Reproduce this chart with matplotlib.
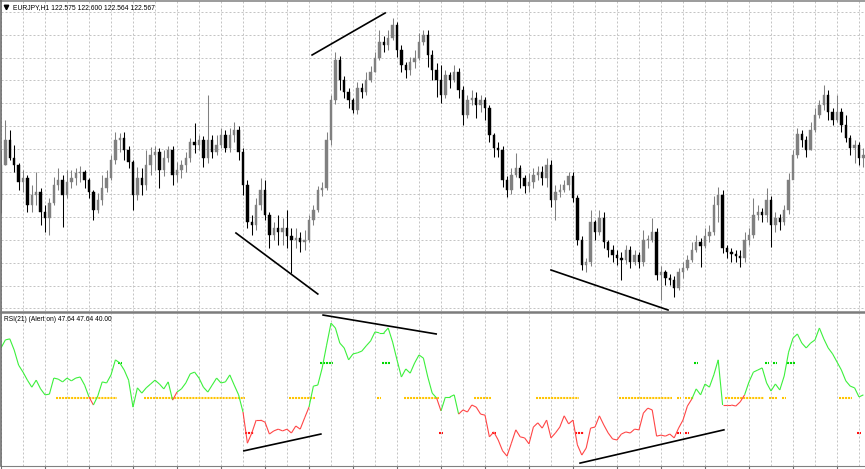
import numpy as np
import matplotlib
matplotlib.use("Agg")
import matplotlib.pyplot as plt
from matplotlib.lines import Line2D
from matplotlib.collections import LineCollection
from matplotlib.ticker import MultipleLocator, FixedLocator

W, H = 865, 469

symbol_label = "EURJPY,H1 122.575 122.600 122.564 122.567"
rsi_label = "RSI(21) (Alert on) 47.64 47.64 40.00"

# hourly bars, open of each bar = previous close
first_open = 122.12
close = [
    122.47, 122.72, 122.54, 122.47, 122.30, 122.34, 122.07, 122.17, 122.20, 122.00,
    121.94, 122.09, 122.27, 122.32, 122.17, 122.30, 122.34, 122.39, 122.40, 122.32,
    122.20, 122.02, 122.12, 122.24, 122.34, 122.52, 122.72, 122.74, 122.62, 122.50,
    122.17, 122.34, 122.27, 122.47, 122.57, 122.60, 122.42, 122.54, 122.62, 122.37,
    122.42, 122.47, 122.54, 122.70, 122.67, 122.72, 122.54, 122.72, 122.60, 122.67,
    122.77, 122.64, 122.77, 122.82, 122.60, 122.27, 121.90, 121.87, 122.07, 122.22,
    121.97, 121.77, 121.84, 121.80, 121.84, 121.76, 121.72, 121.74, 121.70, 121.72,
    121.92, 122.02, 122.22, 122.24, 122.72, 123.12, 123.52, 123.32, 123.20, 123.12,
    123.02, 123.24, 123.20, 123.32, 123.40, 123.54, 123.70, 123.67, 123.74, 123.87,
    123.62, 123.47, 123.42, 123.50, 123.54, 123.70, 123.77, 123.57, 123.42, 123.32,
    123.17, 123.37, 123.32, 123.40, 123.22, 122.97, 123.12, 123.14, 123.07, 123.12,
    123.04, 122.77, 122.64, 122.62, 122.32, 122.22, 122.37, 122.44, 122.34, 122.26,
    122.30, 122.37, 122.40, 122.34, 122.47, 122.12, 122.20, 122.22, 122.27, 122.36,
    122.14, 121.72, 121.47, 121.50, 121.90, 121.80, 121.94, 121.70, 121.62, 121.57,
    121.54, 121.52, 121.62, 121.50, 121.57, 121.50, 121.72, 121.72, 121.80, 121.37,
    121.40, 121.34, 121.32, 121.24, 121.40, 121.44, 121.52, 121.62, 121.70, 121.66,
    121.76, 121.80, 122.07, 122.17, 121.64, 121.60, 121.58, 121.56, 121.54, 121.72,
    121.77, 121.97, 122.00, 121.97, 122.12, 121.87, 121.94, 121.90, 122.02, 122.32,
    122.57, 122.78, 122.72, 122.62, 122.82, 122.97, 123.07, 123.17, 123.00, 122.92,
    123.00, 122.87, 122.74, 122.64, 122.67, 122.54, 122.57,
]
high = [
    122.62, 122.92, 122.82, 122.67, 122.49, 122.42, 122.37, 122.27, 122.40, 122.24,
    122.07, 122.14, 122.35, 122.44, 122.37, 122.42, 122.42, 122.44, 122.46, 122.42,
    122.34, 122.22, 122.19, 122.37, 122.42, 122.57, 122.80, 122.79, 122.80, 122.66,
    122.52, 122.45, 122.44, 122.62, 122.65, 122.66, 122.64, 122.62, 122.66, 122.66,
    122.50, 122.52, 122.60, 122.74, 122.89, 122.77, 122.76, 123.17, 122.77, 122.77,
    122.84, 122.82, 122.84, 122.90, 122.86, 122.64, 122.32, 121.97, 122.14, 122.34,
    122.32, 122.00, 121.90, 121.97, 121.94, 122.02, 121.84, 121.84, 121.80, 121.82,
    121.97, 122.07, 122.26, 122.30, 122.80, 123.17, 123.60, 123.56, 123.36, 123.24,
    123.14, 123.30, 123.29, 123.40, 123.46, 123.60, 123.82, 123.76, 123.82, 123.94,
    123.90, 123.67, 123.50, 123.55, 123.62, 123.79, 123.82, 123.82, 123.62, 123.49,
    123.47, 123.42, 123.40, 123.47, 123.44, 123.26, 123.17, 123.22, 123.20, 123.17,
    123.15, 123.07, 122.79, 122.70, 122.66, 122.36, 122.44, 122.59, 122.47, 122.37,
    122.39, 122.44, 122.46, 122.46, 122.54, 122.52, 122.27, 122.28, 122.32, 122.40,
    122.40, 122.17, 121.76, 121.54, 122.02, 121.92, 122.02, 122.00, 121.72, 121.67,
    121.62, 121.60, 121.67, 121.66, 121.62, 121.60, 121.82, 121.77, 121.94, 121.84,
    121.46, 121.42, 121.38, 121.36, 121.44, 121.50, 121.57, 121.70, 121.77, 121.74,
    121.84, 121.87, 122.16, 122.25, 122.22, 121.67, 121.64, 121.62, 121.62, 121.80,
    121.84, 122.14, 122.07, 122.04, 122.24, 122.16, 122.00, 121.98, 122.07, 122.39,
    122.62, 122.84, 122.82, 122.76, 122.90, 123.04, 123.12, 123.27, 123.22, 123.04,
    123.17, 123.04, 122.97, 122.77, 122.72, 122.70, 122.64,
]
low = [
    121.99, 122.47, 122.52, 122.40, 122.22, 122.20, 122.00, 122.00, 122.07, 121.87,
    121.80, 121.77, 122.07, 122.22, 121.85, 122.14, 122.24, 122.27, 122.30, 122.24,
    122.14, 121.92, 121.99, 122.07, 122.20, 122.32, 122.48, 122.60, 122.52, 122.44,
    122.02, 122.12, 122.17, 122.22, 122.37, 122.42, 122.24, 122.36, 122.50, 122.27,
    122.30, 122.34, 122.40, 122.50, 122.59, 122.62, 122.45, 122.49, 122.54, 122.57,
    122.64, 122.60, 122.60, 122.70, 122.52, 122.17, 121.84, 121.77, 121.82, 122.02,
    121.92, 121.64, 121.72, 121.67, 121.67, 121.64, 121.39, 121.64, 121.60, 121.62,
    121.70, 121.87, 122.00, 122.16, 122.22, 122.67, 123.08, 123.22, 123.14, 123.04,
    122.99, 122.98, 123.14, 123.17, 123.30, 123.40, 123.52, 123.60, 123.62, 123.72,
    123.55, 123.40, 123.34, 123.37, 123.44, 123.52, 123.67, 123.45, 123.32, 123.15,
    123.09, 123.14, 123.24, 123.30, 123.14, 122.87, 122.94, 123.07, 122.94, 123.00,
    122.92, 122.70, 122.55, 122.55, 122.25, 122.15, 122.18, 122.35, 122.24, 122.19,
    122.20, 122.24, 122.32, 122.27, 122.25, 122.05, 121.92, 122.15, 122.20, 122.22,
    122.10, 121.67, 121.42, 121.40, 121.46, 121.72, 121.77, 121.64, 121.55, 121.50,
    121.47, 121.32, 121.48, 121.44, 121.47, 121.44, 121.46, 121.64, 121.70, 121.32,
    121.12, 121.27, 121.27, 121.15, 121.22, 121.34, 121.42, 121.50, 121.60, 121.45,
    121.64, 121.70, 121.77, 121.90, 121.59, 121.54, 121.50, 121.50, 121.45, 121.50,
    121.67, 121.74, 121.92, 121.90, 121.90, 121.65, 121.80, 121.82, 121.87, 121.98,
    122.34, 122.54, 122.65, 122.55, 122.62, 122.80, 122.94, 123.02, 122.92, 122.87,
    122.90, 122.80, 122.70, 122.57, 122.49, 122.47, 122.45,
]

rsi = [
    64.3, 66.6, 66.9, 63.7, 59.4, 57.4, 55.1, 53.1, 55.1, 52.6,
    50.9, 51.1, 55.7, 55.4, 54.6, 55.7, 54.9, 55.7, 56.0, 53.7,
    50.3, 48.0, 50.6, 54.6, 54.3, 56.6, 60.9, 60.0, 58.0, 55.1,
    47.4, 52.9, 51.4, 52.9, 54.0, 55.1, 54.0, 52.6, 54.6, 49.4,
    51.7, 52.6, 54.3, 56.9, 57.4, 55.7, 53.1, 51.7, 53.7, 55.7,
    54.3, 54.6, 56.6, 53.7, 50.9, 46.0, 37.1, 40.0, 43.7, 43.7,
    43.1, 39.7, 40.6, 41.1, 40.6, 41.1, 40.0, 42.0, 41.1, 44.3,
    47.4, 53.4, 53.7, 58.6, 65.1, 71.4, 70.0, 65.7, 64.3, 60.9,
    62.6, 62.9, 63.4, 64.9, 66.3, 68.9, 68.6, 68.6, 70.0, 66.0,
    60.9, 56.0, 58.3, 57.1, 60.0, 62.3, 61.4, 56.0, 51.4, 50.0,
    46.3, 50.3, 50.3, 50.9, 45.4, 46.6, 46.0, 48.0, 47.4, 45.4,
    45.1, 38.9, 40.3, 38.0, 34.9, 33.4, 37.1, 40.9, 38.9, 38.6,
    36.9, 41.7, 42.9, 41.4, 43.7, 38.6, 40.0, 41.7, 44.9, 42.6,
    43.7, 36.6, 33.7, 35.7, 41.4, 41.7, 44.9, 42.3, 40.0, 38.3,
    38.0, 39.7, 40.3, 40.0, 41.1, 40.9, 45.7, 47.1, 46.6, 39.1,
    39.4, 39.1, 39.7, 38.6, 41.4, 43.7, 47.7, 49.7, 52.6, 50.9,
    54.0, 53.1, 56.6, 60.9, 48.0, 48.0, 48.0, 47.7, 48.9, 50.9,
    54.6, 57.4, 58.0, 58.6, 54.3, 52.0, 54.0, 52.3, 56.3, 63.1,
    67.1, 68.3, 65.7, 64.3, 65.7, 66.6, 70.0, 66.9, 64.3, 62.6,
    60.3, 58.0, 54.9, 53.4, 52.9, 50.3, 50.9,
]

# bars where the indicator paints the line red (bar index ranges, inclusive)
bear_spans = [(20, 20), (39, 39), (55, 69), (99, 99), (104, 156), (164, 168)]

# alert dots
level_mid, level_up, level_dn = 50, 60, 40
mid_spans = [(13, 26), (33, 55), (66, 71), (86, 86), (92, 99), (108, 111), (122, 131),
             (141, 152), (154, 154), (156, 157), (165, 173), (175, 176), (178, 178), (191, 193)]
up_spans = [(27, 27), (73, 75), (87, 88), (158, 158), (174, 174), (176, 176), (179, 180)]
dn_spans = [(56, 57), (100, 100), (112, 112), (131, 132), (154, 154), (156, 156), (195, 195)]

# hand-drawn trend lines
price_trend_x = [[53.4, 72.0], [70.7, 87.3], [125.0, 151.6]]
price_trend_y = [[121.79, 121.18], [123.57, 123.99], [121.42, 121.02]]
rsi_trend_x = [[55.2, 72.7], [73.2, 98.9], [131.6, 164.3]]
rsi_trend_y = [[34.9, 39.7], [73.7, 68.3], [31.4, 40.9]]

GRID = "#c4c4c4"
BULL = "#808080"
BEAR = "#000000"
RSI_UP = "#3cf03c"
RSI_DN = "#ff4646"


def rect(x0, y0, x1, y1):
    return [x0 / W, 1 - y1 / H, (x1 - x0) / W, (y1 - y0) / H]


fig = plt.figure(figsize=(W / 100, H / 100), dpi=100)
ax = fig.add_axes(rect(1, 1, 865, 311))
ax2 = fig.add_axes(rect(1, 313, 865, 466))

n = len(close)
idx = np.arange(n)
c = np.array(close)
o = np.r_[first_open, c[:-1]]
hi = np.array(high)
lo = np.array(low)
up = c >= o

# candles
for mask, col in ((up, BULL), (~up, BEAR)):
    ax.vlines(idx[mask], lo[mask], hi[mask], color=col, lw=0.75, zorder=2)
    body = np.maximum(np.abs(c - o), 0.012)
    ax.bar(idx[mask], body[mask], bottom=np.minimum(c, o)[mask], width=0.55,
           color=col, edgecolor=col, lw=0.3, zorder=3)

for xs, ys in zip(price_trend_x, price_trend_y):
    ax.plot(xs, ys, color="black", lw=1.2, zorder=4)

ax.set_xlim(0, 864 / 4.4)
ax.set_ylim(121.01, 124.11)
ax.xaxis.set_major_locator(MultipleLocator(5))
ax.yaxis.set_major_locator(FixedLocator(np.arange(124.0, 121.0, -0.228)))
ax.grid(True, color=GRID, lw=0.72, linestyle=(0, (2, 2)))
ax.set_axisbelow(True)
ax.tick_params(which="both", length=0, labelleft=False, labelbottom=False)
for s in ax.spines.values():
    s.set_visible(False)

# RSI line, red where the indicator is bearish
r = np.array(rsi)
bear = np.zeros(n, bool)
for s, e in bear_spans:
    bear[s:e + 1] = True
pts = np.column_stack([idx, r])
segs = np.stack([pts[:-1], pts[1:]], axis=1)
cols = np.where(bear[:-1], RSI_DN, RSI_UP)
ax2.add_collection(LineCollection(segs, colors=cols, linewidths=0.8, zorder=3))

for spans, lvl, col in ((mid_spans, level_mid, "#ffc400"),
                        (up_spans, level_up, "#00d800"),
                        (dn_spans, level_dn, "#ff1010")):
    for s, e in spans:
        ax2.plot([s - 0.45, e + 0.45], [lvl, lvl], color=col, lw=1.5,
                 dashes=(1, 0.45), dash_capstyle="butt", zorder=2)

for xs, ys in zip(rsi_trend_x, rsi_trend_y):
    ax2.plot(xs, ys, color="black", lw=1.2, zorder=4)

ax2.set_xlim(0, 864 / 4.4)
ax2.set_ylim(30.57, 74.29)
ax2.xaxis.set_major_locator(MultipleLocator(10))
ax2.xaxis.set_minor_locator(MultipleLocator(5))
ax2.grid(True, which="both", axis="x", color=GRID, lw=0.72, linestyle=(0, (2, 2)))
ax2.set_axisbelow(True)
ax2.tick_params(which="major", axis="x", length=3, width=0.8, color="#707070",
                direction="out", labelbottom=False)
ax2.tick_params(which="minor", length=0)
ax2.tick_params(axis="y", length=0, labelleft=False)
for k in ("left", "right", "top"):
    ax2.spines[k].set_visible(False)
ax2.spines["bottom"].set_color("#808080")
ax2.spines["bottom"].set_linewidth(0.8)

# frame: top edge, left edge, pane separator
fig.add_artist(Line2D([0, 1], [1 - 0.7 / H] * 2, color="#808080", lw=1.1, transform=fig.transFigure))
fig.add_artist(Line2D([0.8 / W] * 2, [1 - 466 / H, 1], color="#606060", lw=1.1, transform=fig.transFigure))
fig.add_artist(Line2D([0, 1], [1 - 312 / H] * 2, color="#7c7c7c", lw=1.8, transform=fig.transFigure))

fig.add_artist(Line2D([6 / W], [1 - 7.5 / H], marker="v", ms=3.2, color="black",
                      lw=0, transform=fig.transFigure))
fig.text(13 / W, 1 - 7.5 / H, symbol_label, fontsize=4.9, family="Liberation Sans",
         va="center", ha="left")
fig.text(4 / W, 1 - 319 / H, rsi_label, fontsize=4.8, family="Liberation Sans",
         va="center", ha="left")

fig.savefig("out.png", dpi=100, facecolor="white")
